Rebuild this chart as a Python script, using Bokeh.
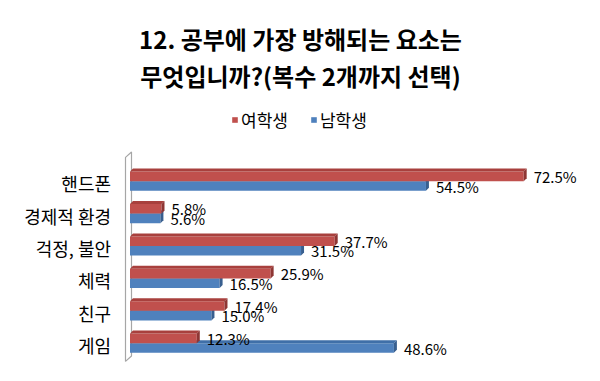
from bokeh.plotting import figure
from bokeh.models import Range1d, Label, Legend, LegendItem, ColumnDataSource
from bokeh.core.properties import value
from bokeh.embed import file_html
from bokeh.resources import INLINE

# ---- data ----
categories = ["핸드폰", "경제적 환경", "걱정, 불안", "체력", "친구", "게임"]
female = [72.5, 5.8, 37.7, 25.9, 17.4, 12.3]   # 여학생
male = [54.5, 5.6, 31.5, 16.5, 15.0, 48.6]     # 남학생
series_names = ["여학생", "남학생"]
title_lines = ["12. 공부에 가장 방해되는 요소는", "무엇입니까?(복수 2개까지 선택)"]

FONT = "Noto Sans CJK KR"
W, H = 584, 365
PX_PER_PCT = 5.43
ROW_PX = 32.4
ORIGIN_X = 129.5      # figure px where 0% sits
ROW0_Y = 180.7        # figure px (from top) of first row centre

x_start = -ORIGIN_X / PX_PER_PCT
x_end = (W - ORIGIN_X) / PX_PER_PCT
y_top = -ROW0_Y / ROW_PX
y_bottom = (H - ROW0_Y) / ROW_PX

p = figure(width=W, height=H, output_backend="svg", toolbar_location=None,
           x_range=Range1d(x_start, x_end), y_range=Range1d(y_bottom, y_top),
           min_border=0, outline_line_color=None)
p.axis.visible = False
p.grid.visible = False
p.background_fill_color = "white"
p.border_fill_color = "white"

rows = list(range(len(categories)))
bar_h = 9.6 / ROW_PX
dx = 3.0 / PX_PER_PCT
dy = 3.0 / ROW_PX

# back wall (3D axis wall)
wx0, wx1 = -4.5 / PX_PER_PCT, 1.5 / PX_PER_PCT
wy_top, wy_bot = -0.5 - 13 / ROW_PX, len(categories) - 0.5 + 2 / ROW_PX
p.patch([wx0, wx1, wx1, wx0], [wy_top + dy * 1.8, wy_top, wy_bot - dy * 1.8, wy_bot],
        fill_color="white", line_color="#A6A6A6", line_width=1.2)


def bar3d(vals, centers, front, top, side):
    r = p.hbar(y=centers, left=0, right=vals, height=bar_h, fill_color=front,
               line_color=None)
    txs, tys, sxs, sys_ = [], [], [], []
    for v, c in zip(vals, centers):
        yt, yb = c - bar_h / 2, c + bar_h / 2
        txs.append([0, v, v + dx, dx])
        tys.append([yt, yt, yt - dy, yt - dy])
        sxs.append([v, v + dx, v + dx, v])
        sys_.append([yt, yt - dy, yb - dy, yb])
    p.patches(txs, tys, fill_color=top, line_color=None)
    p.patches(sxs, sys_, fill_color=side, line_color=None)
    return r


red_c = [r - bar_h / 2 for r in rows]
blue_c = [r + bar_h / 2 for r in rows]

r_blue = bar3d(male, blue_c, "#4F81BD", "#3F6FA8", "#385F8F")
r_red = bar3d(female, red_c, "#C0504D", "#A8403D", "#8E3634")

# data labels
lab_red = ColumnDataSource(dict(x=female, y=red_c, t=[f"{v:.1f}%" for v in female]))
lab_blue = ColumnDataSource(dict(x=male, y=blue_c, t=[f"{v:.1f}%" for v in male]))
for src, yoff in ((lab_red, 0), (lab_blue, 0)):
    p.text(x="x", y="y", text="t", source=src, x_offset=10, y_offset=yoff,
           text_font=value(FONT), text_font_size="15px", text_color="#000000",
           text_align="left", text_baseline="middle")

# category labels
cat_src = ColumnDataSource(dict(x=[0] * len(categories), y=rows, t=categories))
p.text(x="x", y="y", text="t", source=cat_src, x_offset=-19, y_offset=2,
       text_font=value(FONT), text_font_size="18px", text_color="#000000",
       text_align="right", text_baseline="middle")

# title
for line, ypx in zip(title_lines, (38, 75)):
    p.add_layout(Label(x=300, y=H - ypx, x_units="screen", y_units="screen",
                       text=line, text_font=FONT, text_font_size="24px",
                       text_font_style="bold", text_align="center",
                       text_baseline="middle", text_color="#000000"))

# legend
legend = Legend(items=[LegendItem(label=series_names[0], renderers=[r_red]),
                       LegendItem(label=series_names[1], renderers=[r_blue])],
                orientation="horizontal", location=(231, H - 132),
                glyph_width=7, glyph_height=7, label_standoff=3, spacing=22,
                padding=0, margin=0, border_line_color=None,
                background_fill_alpha=0, label_text_font=FONT,
                label_text_font_size="17px", label_text_color="#000000",
                label_height=20)
p.add_layout(legend)

open("out.html", "w").write(file_html(p, INLINE))
